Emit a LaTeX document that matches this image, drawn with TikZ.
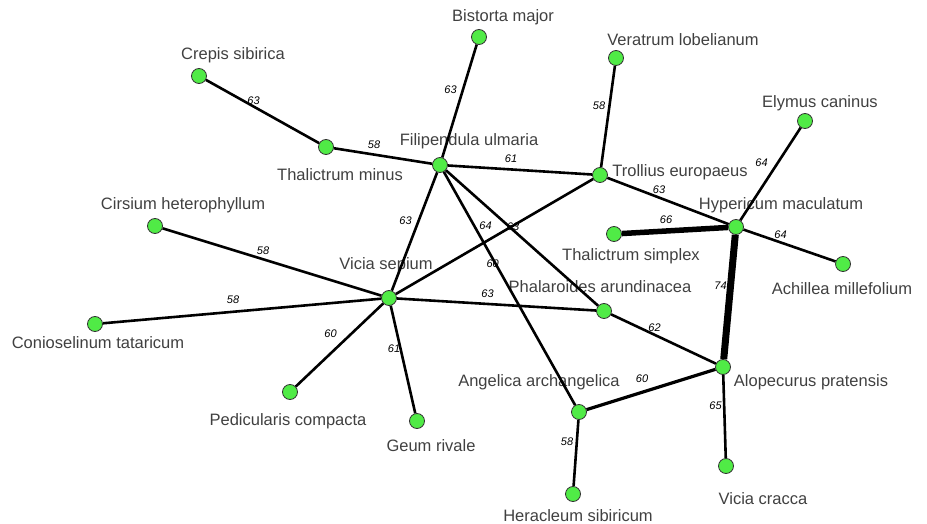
\documentclass[tikz,border=0pt]{standalone}
\usepackage{fontspec}
\setmainfont{Liberation Sans}
\definecolor{leaf}{RGB}{80,235,70}
\tikzset{
  plant/.style = {circle, draw=black!80, fill=leaf, line width=0.8pt, minimum size=15pt, inner sep=0pt},
  plantname/.style = {text=black!75, font=\fontsize{16.5}{18}\selectfont, inner sep=0pt},
  link/.style = {line width=2.6pt},
  wt/.style = {midway, xshift=-9pt, yshift=11pt, font=\fontsize{11}{12}\selectfont\itshape, inner sep=0pt}
  }

\begin{document}
\begin{tikzpicture}[x=1pt,y=-1pt]
\useasboundingbox (0,0) rectangle (927,524);

% names of the species
\node[plantname] (crepis-t) at (233,55) {Crepis sibirica};
\node[plantname] (bistorta-t) at (503,17) {Bistorta major};
\node[plantname] (veratrum-t) at (683,40) {Veratrum lobelianum};
\node[plantname] (thmin-t) at (340,175) {Thalictrum minus};
\node[plantname] (filip-t) at (469,141) {Filipendula ulmaria};
\node[plantname] (trollius-t) at (680,172) {Trollius europaeus};
\node[plantname] (elymus-t) at (820,103) {Elymus caninus};
\node[plantname] (hyper-t) at (781,205) {Hypericum maculatum};
\node[plantname] (thsimp-t) at (631,256) {Thalictrum simplex};
\node[plantname] (achil-t) at (842,289) {Achillea millefolium};
\node[plantname] (cirsium-t) at (183,205) {Cirsium heterophyllum};
\node[plantname] (vsep-t) at (386,265) {Vicia sepium};
\node[plantname] (conio-t) at (98,343) {Conioselinum tataricum};
\node[plantname] (phalar-t) at (600,287) {Phalaroides arundinacea};
\node[plantname] (pedic-t) at (288,421) {Pedicularis compacta};
\node[plantname] (geum-t) at (431,446) {Geum rivale};
\node[plantname] (angel-t) at (539,382) {Angelica archangelica};
\node[plantname] (alopec-t) at (811,382) {Alopecurus pratensis};
\node[plantname] (heracl-t) at (578,516) {Heracleum sibiricum};
\node[plantname] (vcracca-t) at (763,499) {Vicia cracca};

% species
\node[plant] (crepis) at (199,76) {};
\node[plant] (bistorta) at (479,37) {};
\node[plant] (veratrum) at (616,58) {};
\node[plant] (thmin) at (326,147) {};
\node[plant] (filip) at (440,165) {};
\node[plant] (trollius) at (600,175) {};
\node[plant] (elymus) at (805,121) {};
\node[plant] (hyper) at (736,227) {};
\node[plant] (thsimp) at (614,234) {};
\node[plant] (achil) at (843,264) {};
\node[plant] (cirsium) at (155,226) {};
\node[plant] (vsep) at (389,298) {};
\node[plant] (conio) at (95,324) {};
\node[plant] (phalar) at (604,311) {};
\node[plant] (pedic) at (290,392) {};
\node[plant] (geum) at (417,421) {};
\node[plant] (angel) at (579,412) {};
\node[plant] (alopec) at (723,367) {};
\node[plant] (heracl) at (573,494) {};
\node[plant] (vcracca) at (726,466) {};

\draw[link] (crepis) -- node[wt] {63} (thmin);
\draw[link] (thmin) -- node[wt] {58} (filip);
\draw[link] (bistorta) -- node[wt] {63} (filip);
\draw[link] (filip) -- node[wt] {61} (trollius);
\draw[link] (veratrum) -- node[wt] {58} (trollius);
\draw[link] (trollius) -- node[wt] {63} (hyper);
\draw[link] (elymus) -- node[wt] {64} (hyper);
\draw[link,line width=5.5pt] (thsimp) -- node[wt] {66} (hyper);
\draw[link] (hyper) -- node[wt] {64} (achil);
\draw[link,line width=7pt] (hyper) -- node[wt] {74} (alopec);
\draw[link] (filip) -- node[wt] {63} (vsep);
\draw[link] (vsep) -- node[wt] {64} (trollius);
\draw[link] (filip) -- node[wt] {63} (phalar);
\draw[link] (filip) -- node[wt,pos=0.44] {60} (angel);
\draw[link] (cirsium) -- node[wt] {58} (vsep);
\draw[link] (conio) -- node[wt] {58} (vsep);
\draw[link] (vsep) -- node[wt] {63} (phalar);
\draw[link] (vsep) -- node[wt] {60} (pedic);
\draw[link] (vsep) -- node[wt] {61} (geum);
\draw[link] (phalar) -- node[wt] {62} (alopec);
\draw[link,line width=3.2pt] (angel) -- node[wt] {60} (alopec);
\draw[link] (angel) -- node[wt] {58} (heracl);
\draw[link] (alopec) -- node[wt] {65} (vcracca);
\end{tikzpicture}
\end{document}
